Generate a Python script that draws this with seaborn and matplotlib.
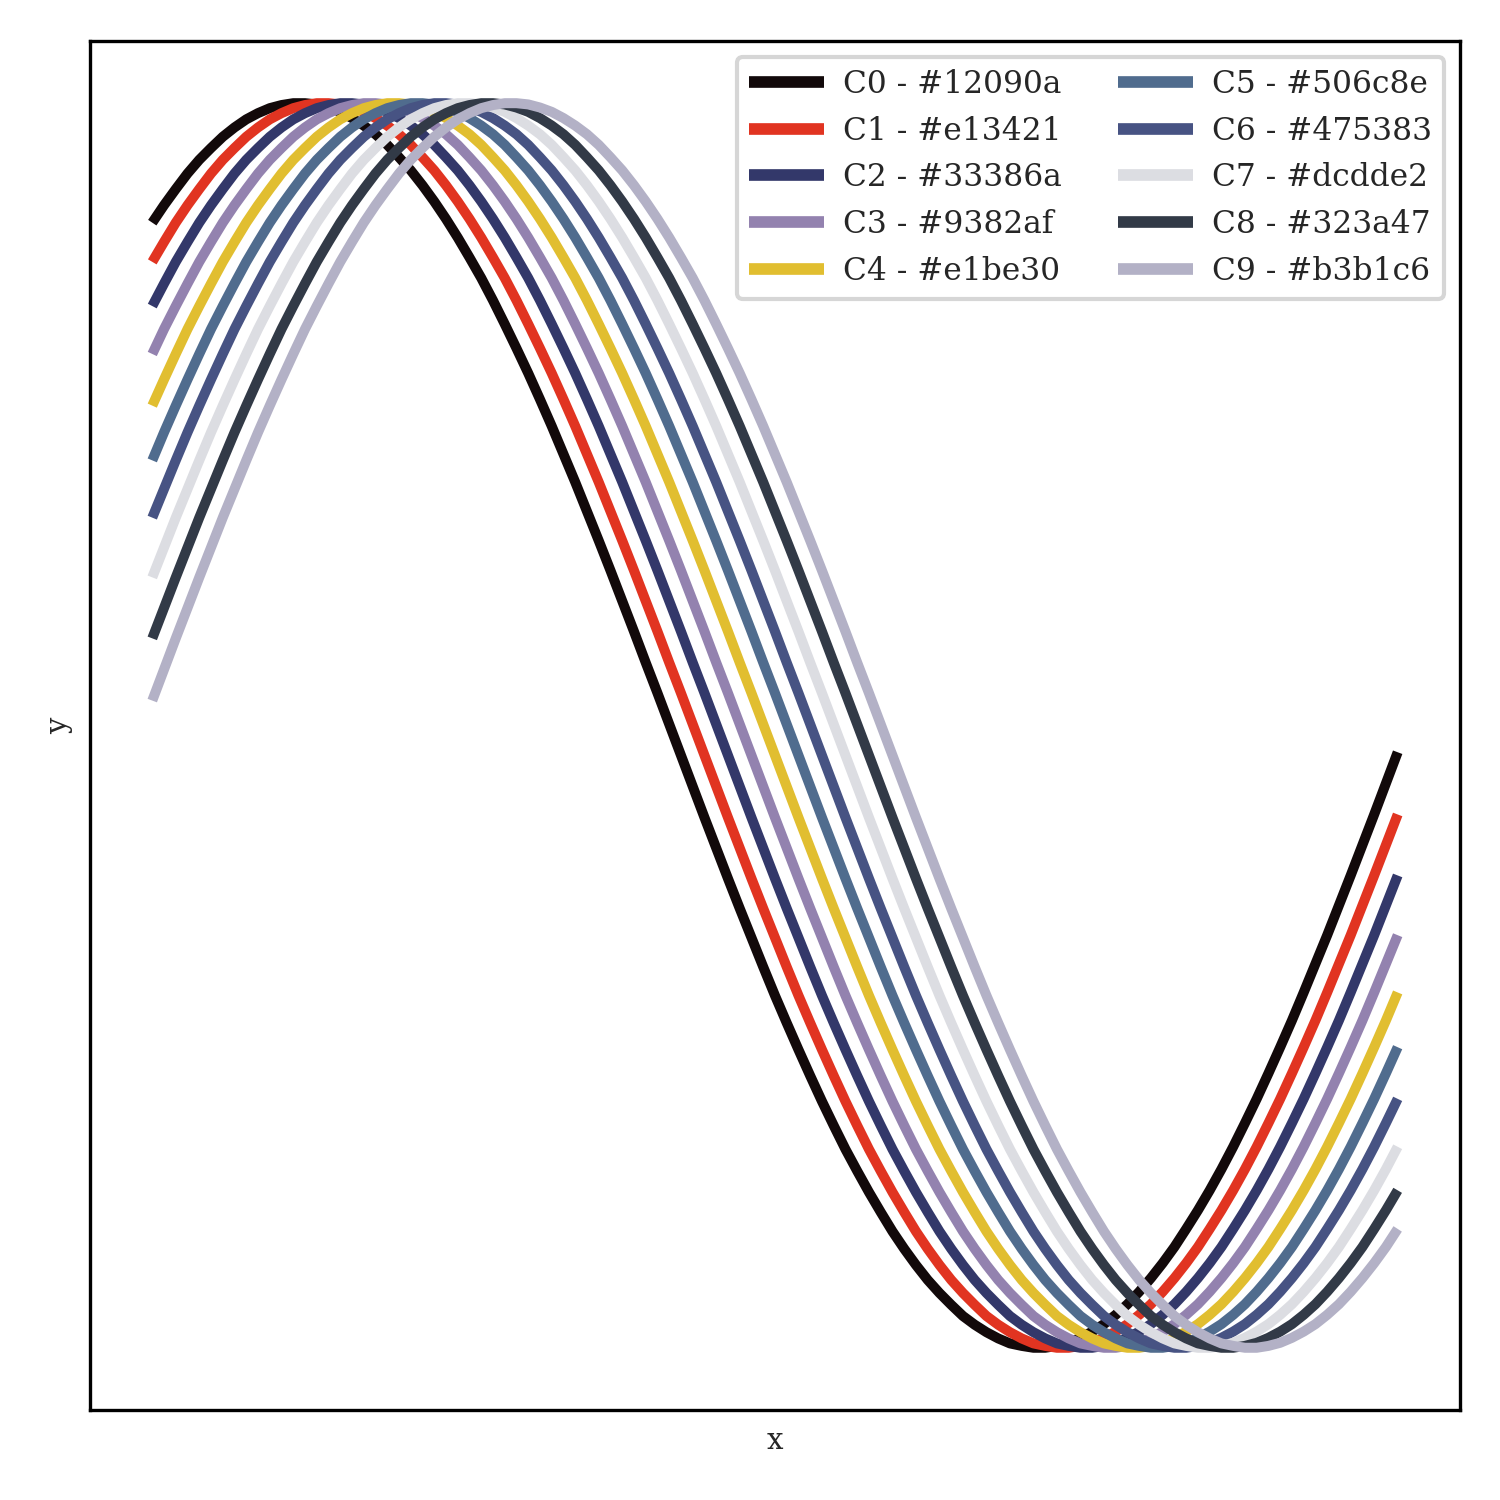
import matplotlib
matplotlib.use("Agg")
import matplotlib.pyplot as plt
import seaborn as sns
import pandas as pd
import numpy as np

# x sample grid (arbitrary units; the axis shows no ticks)
x_vals = np.round(np.linspace(0.0, 5.3, 107), 2)

y_c0 = [0.808, 0.836,
        0.862, 0.887, 0.909, 0.928, 0.946, 0.961, 0.974, 0.984, 0.992, 0.997,
        1.000, 1.000, 0.998, 0.993, 0.986, 0.976, 0.964, 0.950, 0.933, 0.913,
        0.892, 0.868, 0.842, 0.814, 0.784, 0.752, 0.719, 0.683, 0.645, 0.606,
        0.566, 0.524, 0.481, 0.436, 0.391, 0.344, 0.297, 0.249, 0.200, 0.151,
        0.101, 0.052, 0.002, -0.048, -0.098, -0.148, -0.197, -0.246, -0.294, -0.341,
        -0.388, -0.434, -0.478, -0.521, -0.563, -0.604, -0.643, -0.681, -0.716, -0.750,
        -0.782, -0.813, -0.841, -0.867, -0.891, -0.912, -0.931, -0.949, -0.963, -0.975,
        -0.985, -0.993, -0.997, -1.000, -1.000, -0.997, -0.992, -0.984, -0.974, -0.962,
        -0.947, -0.930, -0.910, -0.888, -0.864, -0.838, -0.809, -0.779, -0.747, -0.713,
        -0.677, -0.639, -0.600, -0.559, -0.517, -0.474, -0.429, -0.383, -0.337, -0.289,
        -0.241, -0.192, -0.143, -0.093, -0.043]
y_c1 = [0.745, 0.777, 0.808, 0.836,
        0.862, 0.887, 0.909, 0.928, 0.946, 0.961, 0.974, 0.984, 0.992, 0.997,
        1.000, 1.000, 0.998, 0.993, 0.986, 0.976, 0.964, 0.950, 0.933, 0.913,
        0.892, 0.868, 0.842, 0.814, 0.784, 0.752, 0.719, 0.683, 0.645, 0.606,
        0.566, 0.524, 0.481, 0.436, 0.391, 0.344, 0.297, 0.249, 0.200, 0.151,
        0.101, 0.052, 0.002, -0.048, -0.098, -0.148, -0.197, -0.246, -0.294, -0.341,
        -0.388, -0.434, -0.478, -0.521, -0.563, -0.604, -0.643, -0.681, -0.716, -0.750,
        -0.782, -0.813, -0.841, -0.867, -0.891, -0.912, -0.931, -0.949, -0.963, -0.975,
        -0.985, -0.993, -0.997, -1.000, -1.000, -0.997, -0.992, -0.984, -0.974, -0.962,
        -0.947, -0.930, -0.910, -0.888, -0.864, -0.838, -0.809, -0.779, -0.747, -0.713,
        -0.677, -0.639, -0.600, -0.559, -0.517, -0.474, -0.429, -0.383, -0.337, -0.289,
        -0.241, -0.192, -0.143]
y_c2 = [0.674, 0.710, 0.745, 0.777, 0.808, 0.836,
        0.862, 0.887, 0.909, 0.928, 0.946, 0.961, 0.974, 0.984, 0.992, 0.997,
        1.000, 1.000, 0.998, 0.993, 0.986, 0.976, 0.964, 0.950, 0.933, 0.913,
        0.892, 0.868, 0.842, 0.814, 0.784, 0.752, 0.719, 0.683, 0.645, 0.606,
        0.566, 0.524, 0.481, 0.436, 0.391, 0.344, 0.297, 0.249, 0.200, 0.151,
        0.101, 0.052, 0.002, -0.048, -0.098, -0.148, -0.197, -0.246, -0.294, -0.341,
        -0.388, -0.434, -0.478, -0.521, -0.563, -0.604, -0.643, -0.681, -0.716, -0.750,
        -0.782, -0.813, -0.841, -0.867, -0.891, -0.912, -0.931, -0.949, -0.963, -0.975,
        -0.985, -0.993, -0.997, -1.000, -1.000, -0.997, -0.992, -0.984, -0.974, -0.962,
        -0.947, -0.930, -0.910, -0.888, -0.864, -0.838, -0.809, -0.779, -0.747, -0.713,
        -0.677, -0.639, -0.600, -0.559, -0.517, -0.474, -0.429, -0.383, -0.337, -0.289,
        -0.241]
y_c3 = [0.597, 0.637, 0.674, 0.710, 0.745, 0.777, 0.808, 0.836,
        0.862, 0.887, 0.909, 0.928, 0.946, 0.961, 0.974, 0.984, 0.992, 0.997,
        1.000, 1.000, 0.998, 0.993, 0.986, 0.976, 0.964, 0.950, 0.933, 0.913,
        0.892, 0.868, 0.842, 0.814, 0.784, 0.752, 0.719, 0.683, 0.645, 0.606,
        0.566, 0.524, 0.481, 0.436, 0.391, 0.344, 0.297, 0.249, 0.200, 0.151,
        0.101, 0.052, 0.002, -0.048, -0.098, -0.148, -0.197, -0.246, -0.294, -0.341,
        -0.388, -0.434, -0.478, -0.521, -0.563, -0.604, -0.643, -0.681, -0.716, -0.750,
        -0.782, -0.813, -0.841, -0.867, -0.891, -0.912, -0.931, -0.949, -0.963, -0.975,
        -0.985, -0.993, -0.997, -1.000, -1.000, -0.997, -0.992, -0.984, -0.974, -0.962,
        -0.947, -0.930, -0.910, -0.888, -0.864, -0.838, -0.809, -0.779, -0.747, -0.713,
        -0.677, -0.639, -0.600, -0.559, -0.517, -0.474, -0.429, -0.383, -0.337]
y_c4 = [0.514, 0.556, 0.597, 0.637, 0.674, 0.710, 0.745, 0.777, 0.808, 0.836,
        0.862, 0.887, 0.909, 0.928, 0.946, 0.961, 0.974, 0.984, 0.992, 0.997,
        1.000, 1.000, 0.998, 0.993, 0.986, 0.976, 0.964, 0.950, 0.933, 0.913,
        0.892, 0.868, 0.842, 0.814, 0.784, 0.752, 0.719, 0.683, 0.645, 0.606,
        0.566, 0.524, 0.481, 0.436, 0.391, 0.344, 0.297, 0.249, 0.200, 0.151,
        0.101, 0.052, 0.002, -0.048, -0.098, -0.148, -0.197, -0.246, -0.294, -0.341,
        -0.388, -0.434, -0.478, -0.521, -0.563, -0.604, -0.643, -0.681, -0.716, -0.750,
        -0.782, -0.813, -0.841, -0.867, -0.891, -0.912, -0.931, -0.949, -0.963, -0.975,
        -0.985, -0.993, -0.997, -1.000, -1.000, -0.997, -0.992, -0.984, -0.974, -0.962,
        -0.947, -0.930, -0.910, -0.888, -0.864, -0.838, -0.809, -0.779, -0.747, -0.713,
        -0.677, -0.639, -0.600, -0.559, -0.517, -0.474, -0.429]
y_c5 = [0.426, 0.471,
        0.514, 0.556, 0.597, 0.637, 0.674, 0.710, 0.745, 0.777, 0.808, 0.836,
        0.862, 0.887, 0.909, 0.928, 0.946, 0.961, 0.974, 0.984, 0.992, 0.997,
        1.000, 1.000, 0.998, 0.993, 0.986, 0.976, 0.964, 0.950, 0.933, 0.913,
        0.892, 0.868, 0.842, 0.814, 0.784, 0.752, 0.719, 0.683, 0.645, 0.606,
        0.566, 0.524, 0.481, 0.436, 0.391, 0.344, 0.297, 0.249, 0.200, 0.151,
        0.101, 0.052, 0.002, -0.048, -0.098, -0.148, -0.197, -0.246, -0.294, -0.341,
        -0.388, -0.434, -0.478, -0.521, -0.563, -0.604, -0.643, -0.681, -0.716, -0.750,
        -0.782, -0.813, -0.841, -0.867, -0.891, -0.912, -0.931, -0.949, -0.963, -0.975,
        -0.985, -0.993, -0.997, -1.000, -1.000, -0.997, -0.992, -0.984, -0.974, -0.962,
        -0.947, -0.930, -0.910, -0.888, -0.864, -0.838, -0.809, -0.779, -0.747, -0.713,
        -0.677, -0.639, -0.600, -0.559, -0.517]
y_c6 = [0.334, 0.380, 0.426, 0.471,
        0.514, 0.556, 0.597, 0.637, 0.674, 0.710, 0.745, 0.777, 0.808, 0.836,
        0.862, 0.887, 0.909, 0.928, 0.946, 0.961, 0.974, 0.984, 0.992, 0.997,
        1.000, 1.000, 0.998, 0.993, 0.986, 0.976, 0.964, 0.950, 0.933, 0.913,
        0.892, 0.868, 0.842, 0.814, 0.784, 0.752, 0.719, 0.683, 0.645, 0.606,
        0.566, 0.524, 0.481, 0.436, 0.391, 0.344, 0.297, 0.249, 0.200, 0.151,
        0.101, 0.052, 0.002, -0.048, -0.098, -0.148, -0.197, -0.246, -0.294, -0.341,
        -0.388, -0.434, -0.478, -0.521, -0.563, -0.604, -0.643, -0.681, -0.716, -0.750,
        -0.782, -0.813, -0.841, -0.867, -0.891, -0.912, -0.931, -0.949, -0.963, -0.975,
        -0.985, -0.993, -0.997, -1.000, -1.000, -0.997, -0.992, -0.984, -0.974, -0.962,
        -0.947, -0.930, -0.910, -0.888, -0.864, -0.838, -0.809, -0.779, -0.747, -0.713,
        -0.677, -0.639, -0.600]
y_c7 = [0.238, 0.286, 0.334, 0.380, 0.426, 0.471,
        0.514, 0.556, 0.597, 0.637, 0.674, 0.710, 0.745, 0.777, 0.808, 0.836,
        0.862, 0.887, 0.909, 0.928, 0.946, 0.961, 0.974, 0.984, 0.992, 0.997,
        1.000, 1.000, 0.998, 0.993, 0.986, 0.976, 0.964, 0.950, 0.933, 0.913,
        0.892, 0.868, 0.842, 0.814, 0.784, 0.752, 0.719, 0.683, 0.645, 0.606,
        0.566, 0.524, 0.481, 0.436, 0.391, 0.344, 0.297, 0.249, 0.200, 0.151,
        0.101, 0.052, 0.002, -0.048, -0.098, -0.148, -0.197, -0.246, -0.294, -0.341,
        -0.388, -0.434, -0.478, -0.521, -0.563, -0.604, -0.643, -0.681, -0.716, -0.750,
        -0.782, -0.813, -0.841, -0.867, -0.891, -0.912, -0.931, -0.949, -0.963, -0.975,
        -0.985, -0.993, -0.997, -1.000, -1.000, -0.997, -0.992, -0.984, -0.974, -0.962,
        -0.947, -0.930, -0.910, -0.888, -0.864, -0.838, -0.809, -0.779, -0.747, -0.713,
        -0.677]
y_c8 = [0.140, 0.189, 0.238, 0.286, 0.334, 0.380, 0.426, 0.471,
        0.514, 0.556, 0.597, 0.637, 0.674, 0.710, 0.745, 0.777, 0.808, 0.836,
        0.862, 0.887, 0.909, 0.928, 0.946, 0.961, 0.974, 0.984, 0.992, 0.997,
        1.000, 1.000, 0.998, 0.993, 0.986, 0.976, 0.964, 0.950, 0.933, 0.913,
        0.892, 0.868, 0.842, 0.814, 0.784, 0.752, 0.719, 0.683, 0.645, 0.606,
        0.566, 0.524, 0.481, 0.436, 0.391, 0.344, 0.297, 0.249, 0.200, 0.151,
        0.101, 0.052, 0.002, -0.048, -0.098, -0.148, -0.197, -0.246, -0.294, -0.341,
        -0.388, -0.434, -0.478, -0.521, -0.563, -0.604, -0.643, -0.681, -0.716, -0.750,
        -0.782, -0.813, -0.841, -0.867, -0.891, -0.912, -0.931, -0.949, -0.963, -0.975,
        -0.985, -0.993, -0.997, -1.000, -1.000, -0.997, -0.992, -0.984, -0.974, -0.962,
        -0.947, -0.930, -0.910, -0.888, -0.864, -0.838, -0.809, -0.779, -0.747]
y_c9 = [0.040, 0.090, 0.140, 0.189, 0.238, 0.286, 0.334, 0.380, 0.426, 0.471,
        0.514, 0.556, 0.597, 0.637, 0.674, 0.710, 0.745, 0.777, 0.808, 0.836,
        0.862, 0.887, 0.909, 0.928, 0.946, 0.961, 0.974, 0.984, 0.992, 0.997,
        1.000, 1.000, 0.998, 0.993, 0.986, 0.976, 0.964, 0.950, 0.933, 0.913,
        0.892, 0.868, 0.842, 0.814, 0.784, 0.752, 0.719, 0.683, 0.645, 0.606,
        0.566, 0.524, 0.481, 0.436, 0.391, 0.344, 0.297, 0.249, 0.200, 0.151,
        0.101, 0.052, 0.002, -0.048, -0.098, -0.148, -0.197, -0.246, -0.294, -0.341,
        -0.388, -0.434, -0.478, -0.521, -0.563, -0.604, -0.643, -0.681, -0.716, -0.750,
        -0.782, -0.813, -0.841, -0.867, -0.891, -0.912, -0.931, -0.949, -0.963, -0.975,
        -0.985, -0.993, -0.997, -1.000, -1.000, -0.997, -0.992, -0.984, -0.974, -0.962,
        -0.947, -0.930, -0.910, -0.888, -0.864, -0.838, -0.809]

series_names = ["C0", "C1", "C2", "C3", "C4", "C5", "C6", "C7", "C8", "C9"]
series_colors = ["#12090a", "#e13421", "#33386a", "#9382af", "#e1be30",
                 "#506c8e", "#475383", "#dcdde2", "#323a47", "#b3b1c6"]
series_values = [y_c0, y_c1, y_c2, y_c3, y_c4, y_c5, y_c6, y_c7, y_c8, y_c9]

for vals in series_values:
    assert len(vals) == len(x_vals), len(vals)

sns.set_theme(style="white")
plt.rcParams["font.family"] = ["DejaVu Serif"]
plt.rcParams["lines.solid_capstyle"] = "butt"
plt.rcParams["axes.edgecolor"] = "black"
plt.rcParams["axes.linewidth"] = 0.8

labels = [f"{n} - {c}" for n, c in zip(series_names, series_colors)]
rows = []
for lab, vals in zip(labels, series_values):
    for xv, yv in zip(x_vals, vals):
        rows.append({"x": xv, "y": yv, "series": lab})
df = pd.DataFrame(rows)

fig, ax = plt.subplots(figsize=(5, 5), dpi=300)
fig.subplots_adjust(left=0.06, right=0.9733, bottom=0.06, top=0.9727)

sns.lineplot(data=df, x="x", y="y", hue="series", hue_order=labels,
             palette=dict(zip(labels, series_colors)), linewidth=2.4,
             estimator=None, sort=False, ax=ax)
for ln in ax.get_lines():
    ln.set_solid_capstyle("butt")

ax.set_xticks([])
ax.set_yticks([])
ax.set_xlabel("x", fontsize=7)
ax.set_ylabel("y", fontsize=7)
for sp in ax.spines.values():
    sp.set_color("black")
    sp.set_linewidth(0.8)

leg = ax.legend(loc="upper right", ncol=2, fontsize=7.5, frameon=True,
                edgecolor="0.8", framealpha=0.8, fancybox=True,
                handlelength=2.4, handletextpad=0.6, columnspacing=1.8)
for h in leg.get_lines():
    h.set_solid_capstyle("butt")
    h.set_linewidth(2.8)

fig.savefig("out.png", dpi=300)
